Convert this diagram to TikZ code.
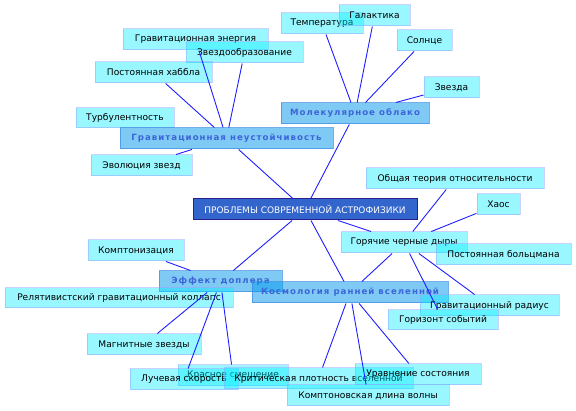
\documentclass[tikz,border=0pt]{standalone}
\usepackage{fontspec}
\setmainfont{DejaVu Sans}
\newfontfamily\branchfont[LetterSpace=12]{DejaVu Sans}
\usepackage{tikz}
\usetikzlibrary{positioning}
\definecolor{mapCyan}{RGB}{0,238,255}
\definecolor{mapEdge}{RGB}{150,165,255}
\definecolor{branchFill}{RGB}{0,150,235}
\definecolor{branchEdge}{RGB}{60,140,225}
\definecolor{branchText}{RGB}{60,100,215}
\definecolor{rootFill}{RGB}{51,102,204}
\definecolor{rootEdge}{RGB}{45,30,140}
\definecolor{linkBlue}{RGB}{30,30,255}

\begin{document}
\begin{tikzpicture}[x=1pt, y=-1pt,
    leaf/.style={rectangle, fill=mapCyan, fill opacity=0.4, text opacity=1,
        draw=mapEdge, draw opacity=0.5, line width=1pt, inner sep=0pt,
        minimum height=21pt, font=\fontsize{9.1}{11}\selectfont, text=black},
    branch/.style={rectangle, fill=branchFill, fill opacity=0.5, text opacity=1,
        draw=branchEdge, draw opacity=0.7, line width=1pt, inner sep=0pt,
        minimum height=21pt, font=\branchfont\bfseries\fontsize{8.6}{10}\selectfont,
        text=branchText},
    root/.style={rectangle, fill=rootFill, draw=rootEdge, line width=1pt,
        inner sep=0pt, minimum height=21pt,
        font=\fontsize{9}{11}\selectfont, text=white},
    link/.style={draw=linkBlue, line width=0.9pt}
]
\useasboundingbox (0,0) rectangle (576,411);

% upper left branch
\node[leaf, minimum width=145pt] (gravEnergy) at (195.5,39.5) {Гравитационная энергия};
\node[leaf, minimum width=117pt] (starForm) at (244.5,52.5) {Звездообразование};
\node[leaf, minimum width=117pt] (hubble) at (153.5,72.5) {Постоянная хаббла};
\node[leaf, minimum width=98pt, minimum height=20pt] (turb) at (125,118) {Турбулентность};
\node[branch, minimum width=213pt] (gravInst) at (226.5,138.5) {Гравитационная неустойчивость};
\node[leaf, minimum width=101pt] (starEvol) at (141.5,165.5) {Эволюция звезд};

% upper right branch
\node[leaf, minimum width=82pt] (temp) at (322,23.5) {Температура};
\node[leaf, minimum width=71pt] (galaxy) at (374.5,15.5) {Галактика};
\node[leaf, minimum width=55pt] (sun) at (424.5,40.5) {Солнце};
\node[leaf, minimum width=55pt] (star) at (451.5,87.5) {Звезда};
\node[branch, minimum width=148pt] (molCloud) at (355,113.5) {Молекулярное облако};

% root
\node[root, minimum width=224pt] (problem) at (305,209.5) {ПРОБЛЕМЫ СОВРЕМЕННОЙ АСТРОФИЗИКИ};

% black holes
\node[leaf, minimum width=178pt] (gtr) at (455,178.5) {Общая теория относительности};
\node[leaf, minimum width=43pt] (chaos) at (498.5,204.5) {Хаос};
\node[leaf, minimum width=126pt] (hotHoles) at (404,242.5) {Горячие черные дыры};
\node[leaf, minimum width=135pt] (boltzmann) at (503.5,254.5) {Постоянная больцмана};

% lower left branch
\node[leaf, minimum width=96pt] (comptonization) at (136,250.5) {Комптонизация};
\node[branch, minimum width=123pt] (doppler) at (220.5,281.5) {Эффект доплера};
\node[leaf, minimum width=228pt, minimum height=20pt] (collapse) at (119,298) {Релятивистский гравитационный коллапс};
\node[leaf, minimum width=114pt] (magStars) at (144,344.5) {Магнитные звезды};
\node[leaf, minimum width=110pt] (redshift) at (233,375.5) {Красное смещение};
\node[leaf, minimum width=108pt] (radVel) at (184,379.5) {Лучевая скорость};

% lower right branch
\node[branch, minimum width=196pt] (cosmo) at (350,292.5) {Космология ранней вселенной};
\node[leaf, minimum width=139pt] (gravRadius) at (489.5,305.5) {Гравитационный радиус};
\node[leaf, minimum width=110pt, minimum height=20pt] (horizon) at (443,320) {Горизонт событий};
\node[leaf, minimum width=189pt] (critDens) at (318.5,378.5) {Критическая плотность вселенной};
\node[leaf, minimum width=162pt] (comptonWave) at (368,395.5) {Комптоновская длина волны};
\node[leaf, minimum width=126pt] (eos) at (418,374.5) {Уравнение состояния};

% connectors
\draw[link] (gravInst) -- (hubble);
\draw[link] (gravInst) -- (gravEnergy);
\draw[link] (gravInst) -- (starForm);
\draw[link] (gravInst) -- (starEvol);
\draw[link] (gravInst) -- (problem);
\draw[link] (molCloud) -- (temp);
\draw[link] (molCloud) -- (galaxy);
\draw[link] (molCloud) -- (sun);
\draw[link] (molCloud) -- (star);
\draw[link] (molCloud) -- (problem);
\draw[link] (problem) -- (hotHoles);
\draw[link] (problem) -- (doppler);
\draw[link] (problem) -- (cosmo);
\draw[link] (hotHoles) -- (gtr);
\draw[link] (hotHoles) -- (chaos);
\draw[link] (hotHoles) -- (cosmo);
\draw[link] (hotHoles) -- (gravRadius);
\draw[link] (hotHoles) -- (horizon);
\draw[link] (cosmo) -- (critDens);
\draw[link] (cosmo) -- (comptonWave);
\draw[link] (cosmo) -- (eos);
\draw[link] (doppler) -- (comptonization);
\draw[link] (doppler) -- (magStars);
\draw[link] (doppler) -- (radVel);
\draw[link] (doppler) -- (redshift);
\end{tikzpicture}
\end{document}
